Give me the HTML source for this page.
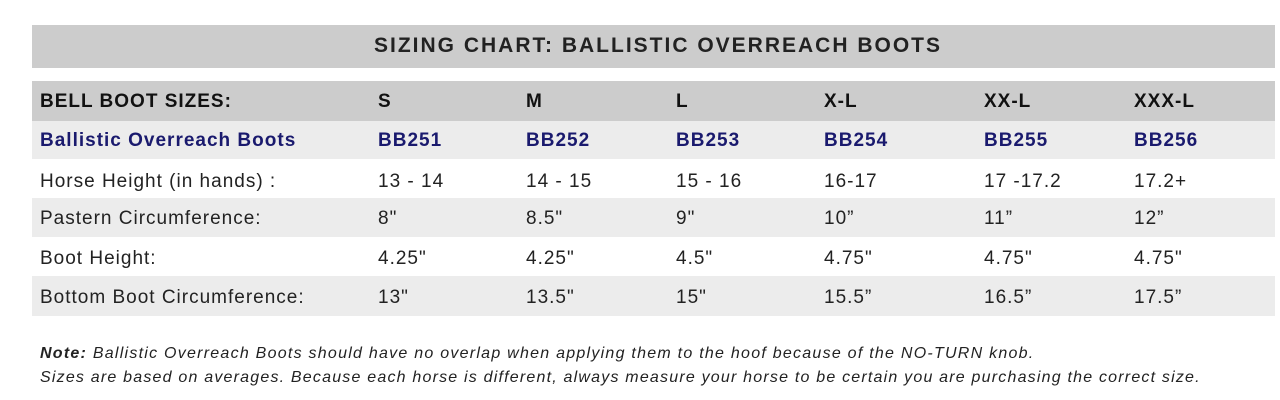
<!DOCTYPE html>
<html><head><style>
body{margin:0;width:1280px;height:400px;background:#fff;font-family:"Liberation Sans",Arial,sans-serif;position:relative;overflow:hidden}
.bar{position:absolute;left:32px;width:1243px}
.t{position:absolute;white-space:nowrap;letter-spacing:1px}
</style></head><body>
<div class="bar" style="top:25px;height:43px;background:#cccccc"></div>
<div class="t" style="top:34px;left:374px;font-weight:bold;font-size:21px;letter-spacing:2px;color:#222">SIZING CHART: BALLISTIC OVERREACH BOOTS</div>
<div class="bar" style="top:81px;height:40px;background:#cccccc"></div>
<div class="bar" style="top:121px;height:38px;background:#ececec"></div>
<div class="bar" style="top:198px;height:39px;background:#ececec"></div>
<div class="bar" style="top:276px;height:40px;background:#ececec"></div>
<div id="rows"></div>
<script>
var xs=[40,378,526,676,824,984,1134];
var rows=[
[91,["BELL BOOT SIZES:","S","M","L","X-L","XX-L","XXX-L"],"bold 19px","#111"],
[130,["Ballistic Overreach Boots","BB251","BB252","BB253","BB254","BB255","BB256"],"bold 19px","#1a1a6e"],
[171,["Horse Height (in hands) :","13 - 14","14 - 15","15 - 16","16-17","17 -17.2","17.2+"],"19px","#222"],
[208,["Pastern Circumference:","8\"","8.5\"","9\"","10\u201d","11\u201d","12\u201d"],"19px","#222"],
[248,["Boot Height:","4.25\"","4.25\"","4.5\"","4.75\"","4.75\"","4.75\""],"19px","#222"],
[287,["Bottom Boot Circumference:","13\"","13.5\"","15\"","15.5\u201d","16.5\u201d","17.5\u201d"],"19px","#222"]];
var h="";rows.forEach(function(r){r[1].forEach(function(s,i){h+='<div class="t" style="top:'+r[0]+'px;left:'+xs[i]+'px;font:'+r[2]+' \'Liberation Sans\',sans-serif;color:'+r[3]+'">'+s.replace(/"/g,'&quot;')+'</div>';});});
document.getElementById('rows').innerHTML=h;
</script>
<div class="t" style="top:345px;left:40px;font-size:16px;letter-spacing:1.25px;font-style:italic;color:#222"><b>Note:</b> Ballistic Overreach Boots should have no overlap when applying them to the hoof because of the NO-TURN knob.</div>
<div class="t" style="top:369px;left:40px;font-size:16px;letter-spacing:1.2px;font-style:italic;color:#222">Sizes are based on averages. Because each horse is different, always measure your horse to be certain you are purchasing the correct size.</div>
</body></html>
